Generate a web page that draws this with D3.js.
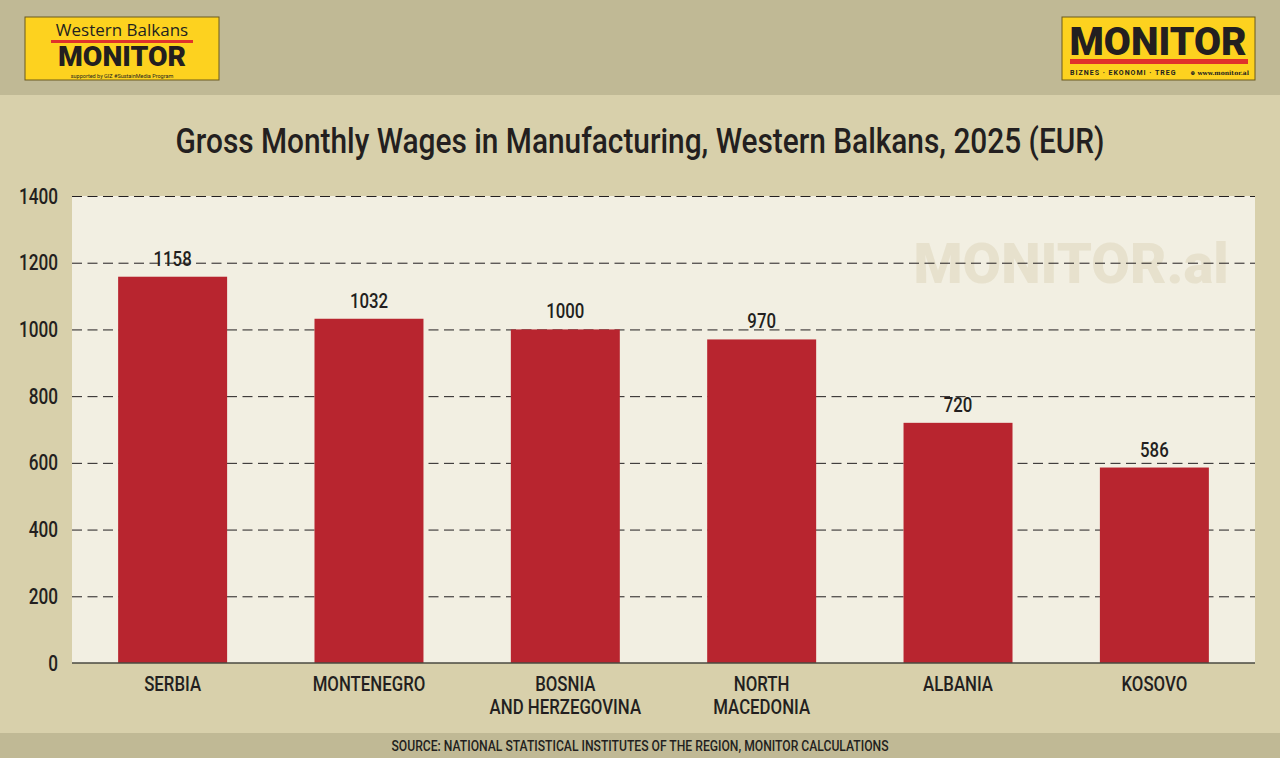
<!DOCTYPE html>
<html>
<head>
<meta charset="utf-8">
<script src="https://cdn.jsdelivr.net/npm/d3@7"></script>
<style>
  html, body { margin: 0; padding: 0; background: #d8d0ab; }
  svg { display: block; }
  .cond { font-family: Roboto, "DejaVu Sans Condensed", sans-serif; font-weight: 500; }
</style>
</head>
<body>
<div id="chart"></div>
<script>
const countries = ['SERBIA', 'MONTENEGRO', 'BOSNIA\nAND HERZEGOVINA', 'NORTH\nMACEDONIA', 'ALBANIA', 'KOSOVO'];
const wages = [1158, 1032, 1000, 970, 720, 586];
const yTicks = [0, 200, 400, 600, 800, 1000, 1200, 1400];
const title = 'Gross Monthly Wages in Manufacturing, Western Balkans, 2025 (EUR)';
const source = 'SOURCE: NATIONAL STATISTICAL INSTITUTES OF THE REGION, MONITOR CALCULATIONS';

const W = 1280, H = 758;
const plot = { left: 72, right: 1255, top: 196, bottom: 663 };
const ink = '#231f20';

// squeeze text horizontally to mimic the condensed face
function condense(sel, f) {
  sel.each(function () {
    const len = this.getComputedTextLength();
    d3.select(this).attr('textLength', len * f).attr('lengthAdjust', 'spacingAndGlyphs');
  });
}

const svg = d3.select('#chart').append('svg').attr('width', W).attr('height', H);

// background bands
svg.append('rect').attr('width', W).attr('height', H).attr('fill', '#d8d0ab');
svg.append('rect').attr('width', W).attr('height', 95).attr('fill', '#c0b995');
svg.append('rect').attr('y', 733).attr('width', W).attr('height', H - 733).attr('fill', '#c0b995');
svg.append('rect').attr('x', plot.left).attr('y', plot.top)
  .attr('width', plot.right - plot.left).attr('height', plot.bottom - plot.top).attr('fill', '#f2efe2');

// watermark
svg.append('text').attr('x', 1071).attr('y', 283).attr('text-anchor', 'middle')
  .style('font-family', 'Roboto, "Liberation Sans", sans-serif').style('font-weight', 900)
  .style('font-size', '56px').attr('fill', '#e7e1cd').text('MONITOR.al');

// left logo
const ll = svg.append('g').attr('transform', 'translate(25,17)');
ll.append('rect').attr('width', 194).attr('height', 63).attr('fill', '#fdd21f').attr('stroke', '#6b5a1e').attr('stroke-width', 1);
ll.append('text').attr('x', 97).attr('y', 19).attr('text-anchor', 'middle')
  .style('font-family', '"Open Sans", sans-serif').style('font-size', '17px').attr('fill', ink).text('Western Balkans');
ll.append('rect').attr('x', 26).attr('y', 23).attr('width', 142).attr('height', 3).attr('fill', '#e0322b');
ll.append('text').attr('x', 97).attr('y', 49).attr('text-anchor', 'middle')
  .style('font-family', 'Roboto, sans-serif').style('font-weight', 900).style('font-size', '28px')
  .attr('fill', ink).attr('textLength', 128).attr('lengthAdjust', 'spacingAndGlyphs').text('MONITOR');
ll.append('text').attr('x', 97).attr('y', 60.5).attr('text-anchor', 'middle')
  .style('font-family', 'Roboto, sans-serif').style('font-size', '5.5px').attr('fill', ink)
  .text('supported by GIZ #SustainMedia Program');

// right logo
const rl = svg.append('g').attr('transform', 'translate(1062,17)');
rl.append('rect').attr('width', 193).attr('height', 63).attr('fill', '#fdd21f').attr('stroke', '#6b5a1e').attr('stroke-width', 1);
rl.append('text').attr('x', 96).attr('y', 38).attr('text-anchor', 'middle')
  .style('font-family', 'Roboto, sans-serif').style('font-weight', 900).style('font-size', '39px')
  .attr('fill', ink).attr('textLength', 177).attr('lengthAdjust', 'spacingAndGlyphs').text('MONITOR');
rl.append('rect').attr('x', 8).attr('y', 42).attr('width', 178).attr('height', 5).attr('fill', '#e0322b');
rl.append('text').attr('x', 8).attr('y', 58)
  .style('font-family', 'Roboto, sans-serif').style('font-weight', 700).style('font-size', '7px')
  .style('letter-spacing', '1px').attr('fill', ink).text('BIZNES  ·  EKONOMI  ·  TREG');
rl.append('text').attr('x', 187).attr('y', 58).attr('text-anchor', 'end')
  .style('font-family', '"DejaVu Serif", serif').style('font-weight', 700).style('font-size', '6px')
  .attr('fill', ink).text('⊕ www.monitor.al');

// title
svg.append('text').attr('class', 'cond').attr('x', 640).attr('y', 153).attr('text-anchor', 'middle')
  .style('font-size', '35px').attr('fill', ink)
  .attr('textLength', 929).attr('lengthAdjust', 'spacingAndGlyphs').text(title);

// scales
const x = d3.scaleBand().domain(countries).range([plot.left, plot.right]).paddingInner(0.445).paddingOuter(0.235);
const y = d3.scaleLinear().domain([0, 1400]).range([plot.bottom, plot.top]);

// grid
const grid = svg.append('g').attr('transform', `translate(${plot.left},0)`)
  .call(d3.axisLeft(y).tickValues(yTicks.filter(v => v > 0)).tickSize(-(plot.right - plot.left)).tickFormat(''));
grid.select('.domain').remove();
grid.selectAll('line').attr('stroke', ink).attr('stroke-width', 1).attr('stroke-dasharray', '10,5.5');

// y axis labels
const ya = svg.append('g').attr('transform', `translate(${plot.left},0)`)
  .call(d3.axisLeft(y).tickValues(yTicks).tickSize(0).tickPadding(14).tickFormat(d3.format('d')));
ya.select('.domain').remove();
ya.selectAll('text').attr('class', 'cond').attr('font-family', null).attr('font-size', null)
  .style('font-size', '22px').attr('fill', ink).call(condense, 0.78);

// bars
svg.append('g').selectAll('rect').data(wages).join('rect')
  .attr('x', (d, i) => x(countries[i])).attr('y', d => y(d))
  .attr('width', x.bandwidth()).attr('height', d => y(0) - y(d))
  .attr('fill', '#b8252f');

// value labels
svg.append('g').selectAll('text').data(wages).join('text').attr('class', 'cond')
  .attr('x', (d, i) => x(countries[i]) + x.bandwidth() / 2).attr('y', d => y(d) - 11)
  .attr('text-anchor', 'middle').style('font-size', '21px').attr('fill', ink).text(d => d)
  .call(condense, 0.8);

// baseline
svg.append('line').attr('x1', plot.left).attr('x2', plot.right).attr('y1', y(0)).attr('y2', y(0))
  .attr('stroke', '#4a4a40').attr('stroke-width', 1.5);

// x axis labels
const xa = svg.append('g').attr('transform', `translate(0,${plot.bottom})`)
  .call(d3.axisBottom(x).tickSize(0).tickFormat(''));
xa.select('.domain').remove();
xa.selectAll('.tick').append('text').attr('class', 'cond').attr('text-anchor', 'middle')
  .style('font-size', '21px').attr('fill', ink)
  .selectAll('tspan').data(d => d.split('\n')).join('tspan')
  .attr('x', 0).attr('y', (d, i) => 28 + i * 23).text(d => d)
  .call(condense, 0.8);

// source
svg.append('text').attr('class', 'cond').attr('x', 640).attr('y', 751).attr('text-anchor', 'middle')
  .style('font-size', '15px').attr('fill', ink).text(source)
  .attr('textLength', 497).attr('lengthAdjust', 'spacingAndGlyphs');
</script>
</body>
</html>
